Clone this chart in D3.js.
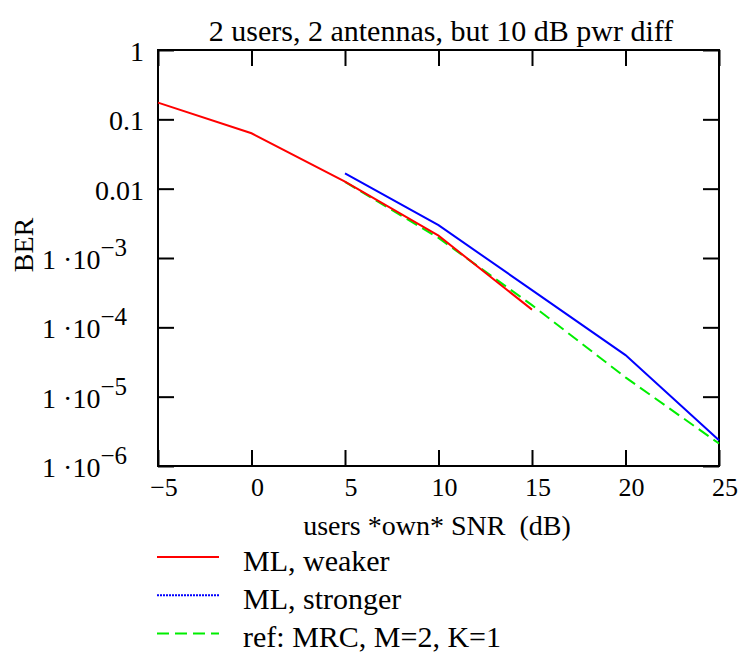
<!DOCTYPE html>
<html>
<head>
<meta charset="utf-8">
<script src="https://cdn.jsdelivr.net/npm/d3@7"></script>
<style>
  body { margin: 0; background: #fff; }
  svg text { font-family: "Liberation Serif", "Times New Roman", serif; fill: #000; }
  .axis path { display: none; }
  .axis line { stroke: #000; stroke-width: 2; }
</style>
</head>
<body>
<div id="chart"></div>
<script>
var width = 739,
    height = 652;

var margin = {top: 50, right: 20, bottom: 186, left: 158};
var plotW = width - margin.left - margin.right,
    plotH = height - margin.top - margin.bottom;

// data
var snrTicks = [-5, 0, 5, 10, 15, 20, 25];
var berTicks = [1, 0.1, 0.01, 1e-3, 1e-4, 1e-5, 1e-6];

var weakerSnr = [-5, 0, 5, 10, 15];
var weakerBer = [0.174, 0.063, 0.0126, 2.1e-3, 1.8e-4];

var strongerSnr = [5, 10, 15, 20, 25];
var strongerBer = [0.0166, 2.98e-3, 3.44e-4, 3.98e-5, 2.36e-6];

var refSnr = [5, 10, 15, 20, 25];
var refBer = [0.0125, 1.95e-3, 2.09e-4, 1.9e-5, 2.11e-6];

var legendNames = ["ML, weaker", "ML, stronger", "ref: MRC, M=2, K=1"];
var colors = ["#ff0000", "#0000ff", "#00ee00"];

var x = d3.scaleLinear().domain([-5, 25]).range([0, plotW]);
var y = d3.scaleLog().domain([1e-6, 1]).range([plotH, 0]);

var svg = d3.select("#chart").append("svg")
    .attr("width", width)
    .attr("height", height)
    .attr("font-family", "Liberation Serif, serif");

var g = svg.append("g")
    .attr("transform", "translate(" + margin.left + "," + margin.top + ")");

// title
svg.append("text")
    .attr("x", 441)
    .attr("y", 41)
    .attr("text-anchor", "middle")
    .style("font-size", "30px")
    .text("2 users, 2 antennas, but 10 dB pwr diff");

// inward ticks on all four sides
g.append("g").attr("class", "axis")
    .attr("transform", "translate(0," + plotH + ")")
    .call(d3.axisBottom(x).tickValues(snrTicks).tickSize(-16).tickFormat(""));
g.append("g").attr("class", "axis")
    .call(d3.axisTop(x).tickValues(snrTicks).tickSize(-16).tickFormat(""));
g.append("g").attr("class", "axis")
    .call(d3.axisLeft(y).tickValues(berTicks).tickSize(-16).tickFormat(""));
g.append("g").attr("class", "axis")
    .attr("transform", "translate(" + plotW + ",0)")
    .call(d3.axisRight(y).tickValues(berTicks).tickSize(-16).tickFormat(""));

// frame
g.append("rect")
    .attr("width", plotW)
    .attr("height", plotH)
    .attr("fill", "none")
    .attr("stroke", "#000")
    .attr("stroke-width", 2);

// x tick labels
g.selectAll(".xlab")
    .data(snrTicks)
    .enter().append("text")
    .attr("class", "xlab")
    .attr("x", function (d) { return x(d) + 6; })
    .attr("y", plotH + 30)
    .attr("text-anchor", "middle")
    .style("font-size", "26px")
    .text(function (d) { return d < 0 ? "\u2212" + (-d) : d; });

// y tick labels
g.selectAll(".ylab")
    .data(berTicks)
    .enter().append("text")
    .attr("class", "ylab")
    .attr("y", function (d) { return y(d) + 11; })
    .attr("x", function (d) { return d >= 0.01 ? -14 : -31; })
    .attr("text-anchor", "end")
    .style("font-size", "28px")
    .each(function (d) {
        var t = d3.select(this);
        if (d >= 0.01) {
            t.text(d);
        } else {
            var e = Math.round(Math.log10(d));
            t.append("tspan").text("1 \u00b710");
            t.append("tspan")
                .attr("dy", -13)
                .style("font-size", "25px")
                .text("\u2212" + (-e));
        }
    });

// axis titles
svg.append("text")
    .attr("transform", "translate(33,245) rotate(-90)")
    .attr("text-anchor", "middle")
    .style("font-size", "28px")
    .text("BER");

svg.append("text")
    .attr("x", 437)
    .attr("y", 535)
    .attr("text-anchor", "middle")
    .style("font-size", "28px")
    .style("white-space", "pre")
    .text("users *own* SNR  (dB)");

// curves
var line = d3.line()
    .x(function (d) { return x(d[0]); })
    .y(function (d) { return y(d[1]); });

var series = [
    {snr: weakerSnr, ber: weakerBer, dash: null},
    {snr: strongerSnr, ber: strongerBer, dash: null},
    {snr: refSnr, ber: refBer, dash: "12,6"}
];

// ref first, so the red line sits over it
[2, 1, 0].forEach(function (i) {
    var s = series[i];
    g.append("path")
        .datum(d3.zip(s.snr, s.ber))
        .attr("d", line)
        .attr("fill", "none")
        .attr("stroke", colors[i])
        .attr("stroke-width", 2)
        .attr("stroke-dasharray", s.dash);
});

// legend
var legendDash = [null, "2,1", "12,6"];
var leg = svg.append("g").attr("transform", "translate(157,557)");
legendNames.forEach(function (name, i) {
    var row = leg.append("g").attr("transform", "translate(0," + (i * 38.2) + ")");
    row.append("line")
        .attr("x1", 0).attr("x2", 62)
        .attr("stroke", colors[i])
        .attr("stroke-width", 2)
        .attr("stroke-dasharray", legendDash[i]);
    row.append("text")
        .attr("x", 86)
        .attr("y", 14)
        .style("font-size", "30px")
        .text(name);
});
</script>
</body>
</html>
